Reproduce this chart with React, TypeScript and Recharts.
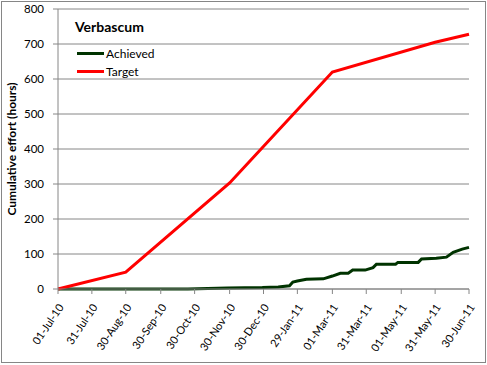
import React from 'react';
import { LineChart, Line, XAxis, YAxis, CartesianGrid, Label } from 'recharts';

// days counted from 01-Jul-10
const tickDays = [0, 30, 60, 91, 121, 152, 182, 212, 243, 273, 304, 334, 364];
const tickLabels = [
  '01-Jul-10', '31-Jul-10', '30-Aug-10', '30-Sep-10', '30-Oct-10', '30-Nov-10', '30-Dec-10',
  '29-Jan-11', '01-Mar-11', '31-Mar-11', '01-May-11', '31-May-11', '30-Jun-11',
];
const yTicks = [0, 100, 200, 300, 400, 500, 600, 700, 800];

const targetDays = [0, 60, 152, 243, 334, 364];
const targetHours = [0, 48, 303, 620, 705, 728];

const achievedDays = [0, 115, 150, 181, 195, 205, 208, 212, 220, 235, 243, 250, 257, 261, 272, 279, 282, 299, 301, 319, 322, 335, 344, 350, 358, 364];
const achievedHours = [0, 0, 3, 4, 6, 9, 20, 23, 28, 29, 37, 45, 45, 54, 54, 61, 71, 71, 76, 76, 86, 88, 91, 105, 114, 119];

const targetData = targetDays.map((d, i) => ({ day: d, hours: targetHours[i] }));
const achievedData = achievedDays.map((d, i) => ({ day: d, hours: achievedHours[i] }));

const legendItems = [
  { name: 'Achieved', color: '#003300' },
  { name: 'Target', color: '#ff0000' },
];

const FONT = 'Lato, "DejaVu Sans", sans-serif';
const GRID = '#868686';

const DateTick = (props: any) => {
  const { x, y, payload } = props;
  const idx = tickDays.indexOf(payload.value);
  return (
    <g transform={`translate(${x + 3},${y + 9})`}>
      <text x={0} y={0} dy="0.35em" textAnchor="end" transform="rotate(-56)" fontSize={11} fontFamily={FONT} fill="#000">
        {tickLabels[idx]}
      </text>
    </g>
  );
};

const App: React.FC = () => {
  return (
    <div style={{ position: 'absolute', left: 0, top: 0, width: 487, height: 365, background: '#fff' }}>
      <LineChart width={487} height={365} margin={{ top: 9, right: 18, bottom: 0, left: 0 }}>
        <CartesianGrid vertical={false} stroke={GRID} />
        <XAxis
          dataKey="day"
          type="number"
          domain={[0, 364]}
          ticks={tickDays}
          interval={0}
          height={76}
          stroke={GRID}
          tickSize={5}
          tick={<DateTick />}
          allowDuplicatedCategory={false}
        />
        <YAxis
          type="number"
          domain={[0, 800]}
          ticks={yTicks}
          width={58}
          stroke={GRID}
          tickSize={5}
          tickMargin={9}
          tick={{ fill: '#000', fontSize: 11.5, fontFamily: FONT }}
        >
          <Label
            value="Cumulative effort (hours)"
            angle={-90}
            position="insideLeft"
            offset={12}
            style={{ textAnchor: 'middle', fontWeight: 700, fontSize: 12, fontFamily: FONT, fill: '#000' }}
          />
        </YAxis>
        <Line data={achievedData} dataKey="hours" name="Achieved" stroke="#003300" strokeWidth={3} dot={false} isAnimationActive={false} />
        <Line data={targetData} dataKey="hours" name="Target" stroke="#ff0000" strokeWidth={3} dot={false} isAnimationActive={false} />
      </LineChart>
      <div style={{ position: 'absolute', left: 75, top: 18, fontFamily: FONT, color: '#000' }}>
        <div style={{ fontWeight: 700, fontSize: 14, lineHeight: '18px', marginBottom: 8 }}>Verbascum</div>
        {legendItems.map((item) => (
          <div key={item.name} style={{ display: 'flex', alignItems: 'center', height: 18, fontSize: 12 }}>
            <span style={{ display: 'inline-block', width: 27, height: 3, background: item.color, marginRight: 2, marginLeft: 2 }} />
            {item.name}
          </div>
        ))}
      </div>
      <div style={{ position: 'absolute', left: 1, top: 1, width: 483, height: 360, border: '1px solid #868686', pointerEvents: 'none' }} />
    </div>
  );
};

export default App;
